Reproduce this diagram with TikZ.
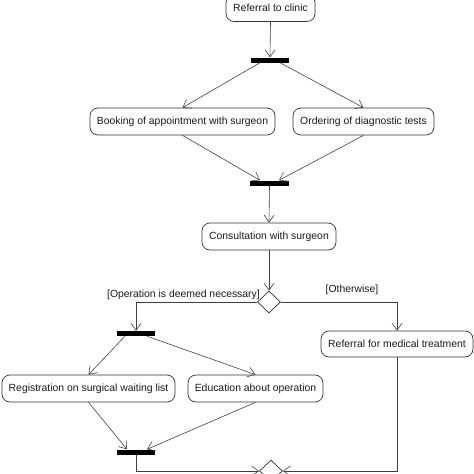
\documentclass[tikz,border=0pt]{standalone}
\usepackage{fontspec}
\setmainfont{Liberation Sans}
\usetikzlibrary{arrows.meta,shapes.geometric,calc}
\begin{document}
\begin{tikzpicture}[x=1pt,y=-1pt,
  every node/.style={font=\fontsize{10.4}{12}\selectfont, text=black!90},
  act/.style={draw=black!80, line width=0.7pt, rounded corners=8pt, inner sep=0pt, minimum height=27pt},
  bar/.style={fill=black, draw=none, inner sep=0pt, minimum width=38pt, minimum height=5pt},
  dec/.style={draw=black!80, line width=0.7pt, diamond, inner sep=0pt, minimum width=23pt, minimum height=22pt},
  flow/.style={draw=black!75, line width=0.6pt, -{Straight Barb[length=7pt,width=10pt,line width=0.6pt]}},
  guard/.style={inner sep=0pt}]
\useasboundingbox (0,0) rectangle (474,474);
\clip (0,0) rectangle (474,474);
\node[act, minimum width=89pt] (clinic) at (270.5,8) {Referral to clinic};
\node[bar] (bar1) at (270,60) {};
\node[act, minimum width=185pt] (booking) at (182.5,121.5) {Booking of appointment with surgeon};
\node[act, minimum width=141pt] (order) at (363.5,121.5) {Ordering of diagnostic tests};
\node[bar, minimum width=39pt] (bar2) at (269.5,183) {};
\node[act, minimum width=134pt] (consult) at (269,236.5) {Consultation with surgeon};
\node[dec] (d1) at (269,302) {};
\node[guard, anchor=east] (lab1) at (260,294.5) {[Operation is deemed necessary]};
\node[guard] (lab2) at (352,290) {[Otherwise]};
\node[bar] (bar3) at (136,333.5) {};
\node[act, minimum width=152pt, minimum height=26pt] (refmed) at (397,344) {Referral for medical treatment};
\node[act, minimum width=173pt] (regist) at (88.5,388.5) {Registration on surgical waiting list};
\node[act, minimum width=135pt] (educ) at (255.5,388.5) {Education about operation};
\node[bar] (bar4) at (136,452) {};
\node[dec] (d2) at (271,471) {};

\draw[flow] (clinic.south) -- (bar1.north);
\draw[flow] ([xshift=-10pt]bar1.south) -- (booking.north);
\draw[flow] ([xshift=10pt]bar1.south) -- (order.north);
\draw[flow] (booking.south) -- ([xshift=-9.5pt]bar2.north);
\draw[flow] (order.south) -- ([xshift=9.5pt]bar2.north);
\draw[flow] (bar2.south) -- (consult.north);
\draw[flow] (consult.south) -- (d1.north);
\draw[flow] (d1.west) -| (bar3.north);
\draw[flow] (d1.east) -| (refmed.north);
\draw[flow] ([xshift=-11pt]bar3.south) -- (regist.north);
\draw[flow] ([xshift=11pt]bar3.south) -- (educ.north);
\draw[flow] (regist.south) -- ([xshift=-9pt]bar4.north);
\draw[flow] (educ.south) -- ([xshift=11pt]bar4.north);
\draw[flow] (bar4.south) |- (d2.west);
\draw[flow] (refmed.south) |- (d2.east);
\end{tikzpicture}
\end{document}
